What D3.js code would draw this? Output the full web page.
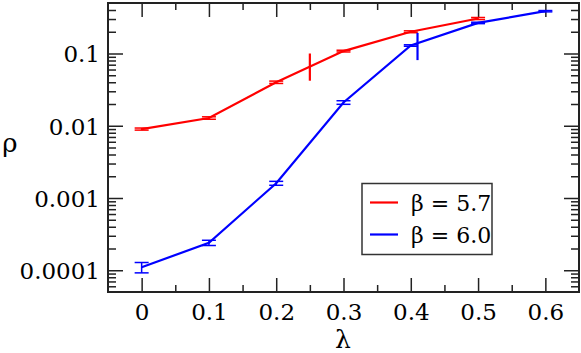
<!DOCTYPE html>
<html>
<head>
<meta charset="utf-8">
<script src="https://cdn.jsdelivr.net/npm/d3@7"></script>
<style>
  body { margin: 0; background: #fff; }
  svg { display: block; }
</style>
</head>
<body>
<div class="chart"></div>
<script>

// lambda values on x, rho on log y
var lambdaRed = [0, 0.1, 0.2, 0.3, 0.4, 0.5];
var rhoRed    = [0.0090, 0.0128, 0.040, 0.108, 0.200, 0.305];
var errRed    = [0.0003, 0.0005, 0.0015, 0.003, 0.006, 0.01];

var lambdaBlue = [0, 0.1, 0.2, 0.3, 0.4, 0.5, 0.6];
var rhoBlue    = [0.00011, 0.00024, 0.0016, 0.021, 0.129, 0.265, 0.385];
var errBlue    = [0.000018, 0.00002, 0.0001, 0.0012, 0.003, 0.006, 0.008];

// the two single points with big bars (no caps)
var extraLambda = [0.25, 0.41];
var extraLo     = [0.042, 0.081];
var extraHi     = [0.100, 0.193];

var seriesNames = ["\u03b2 = 5.7", "\u03b2 = 6.0"];
var seriesColors = ["#ff0000", "#0000ff"];

var xTicks = [0, 0.1, 0.2, 0.3, 0.4, 0.5, 0.6];
var xMinor = [0.05, 0.15, 0.25, 0.35, 0.45, 0.55];
var yTicks = [0.0001, 0.001, 0.01, 0.1];
var yTickLabels = ["0.0001", "0.001", "0.01", "0.1"];

var margin = {top: 3, right: 2, bottom: 61, left: 108};
var width = 581 - margin.left - margin.right,
    height = 353 - margin.top - margin.bottom;
var axisColor = "#222";
var serif = "DejaVu Serif";

var svg = d3.select(".chart")
  .append("svg")
    .attr("width", 581)
    .attr("height", 353);
var g = svg.append("g")
    .attr("transform", "translate(" + margin.left + "," + margin.top + ")");

var x = d3.scaleLinear().domain([-0.05, 0.65]).range([0, width]);
var y = d3.scaleLog().domain([5e-5, 0.5]).range([height, 0]);

// minor log ticks 2..9 of each decade
var yMinor = [];
[1e-5, 1e-4, 1e-3, 1e-2, 1e-1].forEach(function(d) {
  for (var k = 2; k <= 9; k++) {
    var v = d * k;
    if (v > 5e-5 && v < 0.5) yMinor.push(v);
  }
});

function styleAxis(sel) {
  sel.attr("font-family", serif);
  sel.select(".domain").remove();
  sel.selectAll("line").attr("stroke", axisColor).attr("stroke-width", 1.5);
  sel.selectAll("text")
    .attr("font-size", 23)
    .attr("fill", "#000");
}

// bottom
g.append("g").attr("transform", "translate(0," + height + ")")
  .call(d3.axisBottom(x).tickValues(xTicks).tickSize(-14).tickPadding(0)
    .tickFormat(function(d) { return d === 0 ? "0" : d3.format(".1f")(d); }))
  .call(styleAxis)
  .selectAll("text").attr("y", 12).attr("dy", "0.71em");
g.append("g").attr("transform", "translate(0," + height + ")")
  .call(d3.axisBottom(x).tickValues(xMinor).tickSize(-7).tickFormat(""))
  .call(styleAxis);
// top
g.append("g")
  .call(d3.axisTop(x).tickValues(xTicks).tickSize(-14).tickFormat(""))
  .call(styleAxis);
g.append("g")
  .call(d3.axisTop(x).tickValues(xMinor).tickSize(-7).tickFormat(""))
  .call(styleAxis);
// left
g.append("g")
  .call(d3.axisLeft(y).tickValues(yTicks).tickSize(-15)
    .tickFormat(function(d, i) { return yTickLabels[i]; }))
  .call(styleAxis)
  .selectAll("text").attr("x", -8).attr("dy", "0.36em");
g.append("g")
  .call(d3.axisLeft(y).tickValues(yMinor).tickSize(-8).tickFormat(""))
  .call(styleAxis);
// right
g.append("g").attr("transform", "translate(" + width + ",0)")
  .call(d3.axisRight(y).tickValues(yTicks).tickSize(-15).tickFormat(""))
  .call(styleAxis);
g.append("g").attr("transform", "translate(" + width + ",0)")
  .call(d3.axisRight(y).tickValues(yMinor).tickSize(-8).tickFormat(""))
  .call(styleAxis);

// frame
g.append("rect")
  .attr("width", width).attr("height", height)
  .attr("fill", "none").attr("stroke", axisColor).attr("stroke-width", 2);

var line = d3.line()
  .x(function(d) { return x(d[0]); })
  .y(function(d) { return y(d[1]); });

function drawSeries(lams, rhos, errs, color) {
  var pts = lams.map(function(l, i) { return [l, rhos[i], errs[i]]; });
  g.append("path")
    .datum(pts)
    .attr("d", line)
    .attr("fill", "none")
    .attr("stroke", color)
    .attr("stroke-width", 2.2);
  var eb = g.selectAll(null).data(pts).enter().append("g");
  eb.append("line")
    .attr("x1", function(d) { return x(d[0]); })
    .attr("x2", function(d) { return x(d[0]); })
    .attr("y1", function(d) { return y(d[1] + d[2]); })
    .attr("y2", function(d) { return y(d[1] - d[2]); })
    .attr("stroke", color).attr("stroke-width", 1.5);
  [1, -1].forEach(function(s) {
    eb.append("line")
      .attr("x1", function(d) { return x(d[0]) - 7; })
      .attr("x2", function(d) { return x(d[0]) + 7; })
      .attr("y1", function(d) { return y(d[1] + s * d[2]); })
      .attr("y2", function(d) { return y(d[1] + s * d[2]); })
      .attr("stroke", color).attr("stroke-width", 1.5);
  });
}

drawSeries(lambdaRed, rhoRed, errRed, seriesColors[0]);
drawSeries(lambdaBlue, rhoBlue, errBlue, seriesColors[1]);

extraLambda.forEach(function(l, i) {
  g.append("line")
    .attr("x1", x(l)).attr("x2", x(l))
    .attr("y1", y(extraHi[i])).attr("y2", y(extraLo[i]))
    .attr("stroke", seriesColors[i]).attr("stroke-width", 2.2);
});

// axis titles
svg.append("text")
  .attr("x", 343).attr("y", 348)
  .attr("text-anchor", "middle")
  .attr("font-family", serif)
  .attr("font-size", 25)
  .text("\u03bb");
svg.append("text")
  .attr("x", 10).attr("y", 152)
  .attr("text-anchor", "middle")
  .attr("font-family", serif)
  .attr("font-size", 26)
  .text("\u03c1");

// legend
var leg = svg.append("g");
leg.append("rect")
  .attr("x", 362).attr("y", 183.5).attr("width", 130).attr("height", 71)
  .attr("fill", "#fff").attr("stroke", "#333").attr("stroke-width", 1.5);
seriesNames.forEach(function(name, i) {
  var ly = 202.5 + i * 32;
  leg.append("line")
    .attr("x1", 370).attr("x2", 398).attr("y1", ly).attr("y2", ly)
    .attr("stroke", seriesColors[i]).attr("stroke-width", 2.2);
  leg.append("text")
    .attr("x", 411).attr("y", ly + 8)
    .attr("font-family", serif)
    .attr("font-size", 22)
    .text(name);
});

</script>
</body>
</html>
